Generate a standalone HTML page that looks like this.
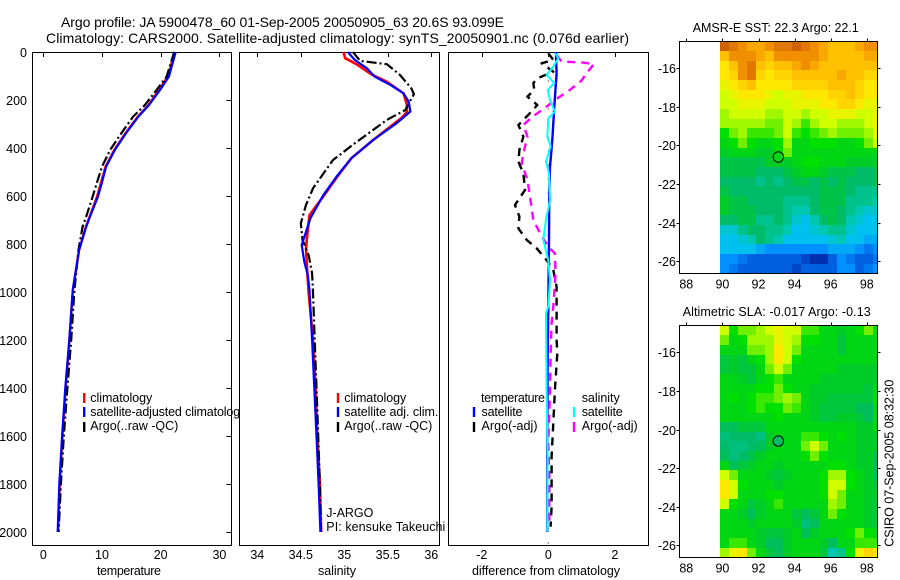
<!DOCTYPE html>
<html lang="en">
<head>
<meta charset="utf-8">
<title>Argo profile chart</title>
<style>
html,body{margin:0;padding:0;background:#fff;}
svg{display:block;font-family:"Liberation Sans",sans-serif;fill:#000;}
text{font-size:12.5px;fill:#000;}
.ttl{font-size:14px;}
</style>
</head>
<body>
<svg id="chart" xmlns="http://www.w3.org/2000/svg" width="900" height="580" viewBox="0 0 900 580">
<rect x="0" y="0" width="900" height="580" fill="#fff"/>

<g id="p1"></g>
<g id="p1legend">
<rect x="83" y="393" width="2.4" height="10" fill="#f00"/>
<rect x="83" y="407" width="2.4" height="10" fill="#00f"/>
<rect x="83" y="422" width="2.4" height="10" fill="#000"/>
<text x="90.3" y="402" textLength="62" lengthAdjust="spacing">climatology</text>
<text x="90.3" y="416" textLength="156" lengthAdjust="spacing">satellite-adjusted climatology</text>
<text x="90.3" y="430" textLength="88" lengthAdjust="spacing">Argo(..raw -QC)</text>
</g>

<rect x="239.5" y="52" width="208.5" height="494" fill="#fff"/>
<text class="ttl" x="61" y="27" textLength="443" lengthAdjust="spacing">Argo profile: JA 5900478_60 01-Sep-2005 20050905_63 20.6S 93.099E</text>
<text class="ttl" x="46" y="43" textLength="583" lengthAdjust="spacing">Climatology: CARS2000. Satellite-adjusted climatology: synTS_20050901.nc (0.076d earlier)</text>
<g id="p2"></g>
<g id="p2legend">
<rect x="336.8" y="393" width="2.4" height="10" fill="#f00"/>
<rect x="336.8" y="407" width="2.4" height="10" fill="#00f"/>
<rect x="336.8" y="422" width="2.4" height="10" fill="#000"/>
<text x="344.3" y="402" textLength="62" lengthAdjust="spacing">climatology</text>
<text x="344.3" y="416" textLength="94" lengthAdjust="spacing">satellite adj. clim.</text>
<text x="344.3" y="430" textLength="88" lengthAdjust="spacing">Argo(..raw -QC)</text>
<text x="326.3" y="517" textLength="47" lengthAdjust="spacing">J-ARGO</text>
<text x="326.3" y="531" textLength="119" lengthAdjust="spacing">PI: kensuke Takeuchi</text>
</g>

<g id="p3"></g>
<g id="p3legend">
<text x="481" y="402" textLength="64" lengthAdjust="spacing">temperature</text>
<rect x="472.8" y="407" width="2.4" height="10" fill="#00f"/>
<text x="481.5" y="416" textLength="41" lengthAdjust="spacing">satellite</text>
<rect x="472.8" y="422" width="2.4" height="10" fill="#000"/>
<text x="481.5" y="430" textLength="56" lengthAdjust="spacing">Argo(-adj)</text>
<text x="581.7" y="402" textLength="38" lengthAdjust="spacing">salinity</text>
<rect x="572.8" y="407" width="2.4" height="10" fill="#0ff"/>
<text x="581.7" y="416" textLength="41" lengthAdjust="spacing">satellite</text>
<rect x="572.8" y="422" width="2.4" height="10" fill="#f0f"/>
<text x="581.7" y="430" textLength="56" lengthAdjust="spacing">Argo(-adj)</text>
</g>

<text x="129" y="575" text-anchor="middle" textLength="64" lengthAdjust="spacing">temperature</text>
<text x="337" y="575" text-anchor="middle" textLength="38" lengthAdjust="spacing">salinity</text>
<text x="546" y="575" text-anchor="middle" textLength="148" lengthAdjust="spacing">difference from climatology</text>

<g id="m1"></g>
<g id="m2"></g>
<text x="692.7" y="32" textLength="166" lengthAdjust="spacing">AMSR-E SST: 22.3 Argo: 22.1</text>
<text x="682.7" y="316" textLength="188" lengthAdjust="spacing">Altimetric SLA: -0.017 Argo: -0.13</text>
<text transform="translate(893.5,546.7) rotate(-90)" textLength="167" lengthAdjust="spacing">CSIRO 07-Sep-2005 08:32:30</text>
</svg>

<script>
// ---------- tick labels ----------
const depthTicks = [0,200,400,600,800,1000,1200,1400,1600,1800,2000];
const tempTicks = [0,10,20,30];
const salTicks = [34,34.5,35,35.5,36];
const diffTicks = [-2,0,2];
const lonTicks = [88,90,92,94,96,98];
const latTicks = [-16,-18,-20,-22,-24,-26];

// ---------- temperature panel ----------
const tempDepths = [0,103,158,221,269,338,408,478,547,603,686,728,825,992,1200,1400,1600,1800,2000];
const tempClim = [22.4,21.2,19.7,17.9,16.1,14.0,12.1,10.6,9.8,9.15,7.9,7.25,6.1,5.05,4.45,3.8,3.25,2.8,2.5];
const tempSat = [22.55,21.4,19.9,18.0,16.2,14.1,12.2,10.7,9.95,9.3,7.95,7.3,6.1,5.0,4.43,3.75,3.2,2.73,2.45];
const tempArgo = [22.3,21.0,19.3,17.3,15.3,13.3,11.4,10.0,9.1,8.4,7.3,6.7,6.0,5.3,4.75,4.1,3.5,3.0,2.6];

// ---------- salinity panel ----------
const salSatDepths = [0,33,68,103,137,172,207,248,297,367,443,519,596,693,749,804,874,929,992,1200,1400,1600,1800,2000];
const salSat = [35.04,35.12,35.26,35.35,35.53,35.68,35.74,35.76,35.6,35.33,35.08,34.91,34.76,34.61,34.56,34.51,34.54,34.58,34.6,34.63,34.655,34.68,34.705,34.725];
const salClimDepths = [0,26,51,93,124,172,219,250,274,367,443,519,596,680,776,818,890,1000,1200,1400,1600,1800,2000];
const salClim = [34.99,35.01,35.14,35.31,35.49,35.68,35.72,35.72,35.66,35.33,35.08,34.92,34.77,34.6,34.57,34.56,34.57,34.59,34.64,34.67,34.69,34.72,34.735];
const salArgoDepths = [0,37,51,96,151,176,242,283,381,450,568,637,714,783,846,922,1000,1200,1400,1600,1800,2000];
const salArgo = [35.1,35.18,35.49,35.64,35.77,35.8,35.7,35.49,35.12,34.87,34.64,34.56,34.5,34.52,34.59,34.63,34.64,34.66,34.68,34.7,34.72,34.73];

// ---------- difference panel ----------
const diffTempSatDepths = [0,89,228,367,478,575,783,1061,1300,1600,2000];
const diffTempSat = [0.23,0.25,0.18,0.12,0.05,0.03,0.02,0,-0.02,-0.03,-0.03];
const diffSalSatDepths = [5,26,61,96,130,158,200,249,276,353,394,457,506,617,700,783,867,950,1061,1089,1408,1686,1998];
const diffSalSat = [0.2,0.3,0.15,-0.05,0.18,-0.02,0.05,0.2,0,-0.03,0.07,-0.07,0.02,0.05,-0.07,-0.15,0,0.05,0,-0.07,-0.05,-0.02,-0.03];
const diffTempArgoDepths = [5,33,47,82,110,130,158,186,221,262,304,353,408,457,506,575,637,686,735,783,818,867,908,978,1061,1200,1256,1408,1547,1686,1894,1978];
const diffTempArgo = [0,0.15,-0.2,0.15,-0.33,-0.45,-0.42,-0.63,-0.33,-0.6,-0.9,-0.75,-0.87,-0.9,-0.75,-0.7,-1,-0.87,-0.9,-0.65,-0.35,-0.05,0.15,0.25,0.25,0.25,0.27,0.2,0.15,0.1,0.1,0.07];
const diffSalArgoDepths = [12,40,44,50,89,119,158,200,228,272,304,353,422,464,533,603,700,755,811,839,922,1061,1130,1270,1408,1630,1769,1963];
const diffSalArgo = [0.25,0.4,1.05,1.37,1.15,1,0.65,0.2,-0.05,-0.5,-0.75,-0.63,-0.75,-0.8,-0.63,-0.55,-0.45,-0.25,0,0.2,0.22,0.15,0.1,0.07,0.05,0,0.03,0.03];

// ---------- map data (colour level per 0.5 degree cell) ----------
const sstArgoLevel = [6.5];
const slaArgoLevel = [5];
const argoLon = [93.099];
const argoLat = [-20.6];
const sstLevels = [
[13,12.5,12,11.5,11.5,12,12.5,12.5,13,12.5,12,11.5,11,11,11,11.5,12,12],
[11,12,12,12,11.5,11,12,12,12,12,12,11.5,11,11,11,11,11.5,11.5],
[10,11,12,12.5,11,10.5,11,11,11.5,12,11.5,11,11,11,11,11,11,11],
[10,10.5,12,12.5,10.5,10,10.5,10.5,11,11,11,11,11,11.5,11,11,10.5,10.5],
[9.5,10,10.5,11,10,10,10,10,10.5,10.5,10.5,10.5,11,11,11,10.5,10,10],
[9,9.5,10,10,10,9.5,9,9.5,9.5,10,10,10,10.5,10.5,11,10.5,10,10],
[9,9,9.5,9.5,9.5,9,9,9,9.5,9.5,9.5,10,10,10.5,10.5,10,9.5,9.5],
[8.5,9,9,9,9,8.5,8.5,9,9,8.5,9,9,9.5,9.5,9.5,9,9,9.5],
[8.5,8.5,8.5,8.5,8.5,8,8,9,8.5,7.5,8.5,9,9,8.5,8.5,8.5,9,9.5],
[7,8,8.5,7.5,7.5,7.5,8,9,7.5,7,7.5,8,8.5,8,8,8,8.5,9.5],
[6.5,7,8,7,6.5,6.5,7,8.5,6.5,6.5,7,7,7,6.5,6.5,7,8,9],
[6,6.5,6.5,6.5,6,6,7,8,6.5,6.5,6.5,6.5,6.5,6.5,6.5,6.5,6.5,6.5],
[5.5,5.5,5.5,5.5,5.5,6,6,6,6.5,7,7,6.5,6.5,6.5,6,6,6,6],
[5.5,5.5,5.5,5.5,5,5,5,5.5,6,6.5,6.5,6,5.5,5.5,5.5,5,5,5.5],
[5,5,5,5,4.5,5,4.5,5,5.5,5.5,5,5.5,5,5.5,5,5,5,5.5],
[5.5,5,5,5,5,5,5,5,5,5,5,5.5,5.5,5.5,5,4.5,4.5,4.5],
[6,5.5,5.5,5,5,5,5,4.5,4.5,4.5,5,5.5,5.5,5.5,4.5,4.5,4.5,4],
[6,5.5,5.5,5.5,5,5,5,4.5,4,4,5,5.5,5.5,5,4.5,4,3.5,3.5],
[5,5,5.5,5.5,4.5,4.5,5,4.5,3.5,3,4,5,5.5,5,4,3.5,3,3],
[3.5,3.5,4.5,5,5,4.5,4.5,4,3,3,3.5,4,4.5,4.5,3.5,3,3,3],
[3,3,3.5,4,5,4.5,4,3,3,3,3,3,3.5,4,3,3,2.5,2.5],
[3,3,3,3,2.5,2,2,2,2,2,2,2,2.5,2.5,2.5,2,1.5,2],
[2,2,1.5,1,1,1,1,1,1,0.5,0,0,1,2,1.5,1,1,1.5],
[2,1.5,1,1,1,1,1,1,0.5,1,1,1,1,2,2,1,1.5,2]
];
const slaLevels = [
[9,7,8,8,8.5,9,9.5,9,9,7.5,7.5,6.5,6.5,6,6.5,7,8,7],
[8,6.5,7,8.5,8.5,8.5,9.5,9,8.5,7,7,6.5,6.5,5.7,6.5,6.5,6.5,6.5],
[6.5,6.5,6.5,8,8,8.5,10,9,8,6.5,6.5,6.5,6.5,5.7,6.5,6.5,6.5,6.5],
[5.7,6,5.7,6.5,7,8.5,10,9,7,6.5,6.5,6.5,6.5,6.5,6.5,6.5,6.5,6.5],
[5.7,6,5.7,5.7,6.5,8,9,8,6.5,6.5,6.5,6.5,6.5,6,6,6,6,6],
[6.5,6.5,6,5.7,6.5,7,7.5,6.5,6.5,6.5,6.5,6,6,6,6,6,6,6],
[6.5,6.5,6.5,6.5,7,7,8,7,6.5,6.5,6,6,6,6,6,6,5.7,6.5],
[6.5,7,6.5,7,7.5,7.5,8,8.5,8,6.5,6,6,5.7,5.7,5.7,5.7,5.7,7],
[6.5,6.5,6.5,7,7.5,7,7,8,7.5,6.5,6,5.7,5.7,5.7,5.7,5.2,5.2,6.5],
[6.5,6.5,6.5,6.5,6.5,6.5,7,6.5,6.5,6.5,6,5.7,5.7,6,6,5.7,5.2,6.5],
[5.2,5.2,5.7,5.7,5.7,6.5,6.5,6.5,6.5,6.5,6.5,6.5,6.5,6.5,6.5,6,6,6.5],
[4.7,5,5,5,4.7,6,6.5,6.5,6.5,7.5,7.5,7,6.5,7,6.5,6,6,6],
[5,4.7,4.7,5,5.2,6,6.5,6.5,6.5,8,9,8,6.5,6.5,6.5,6,6,6],
[5.2,4.7,5,5.5,6,6.5,6.5,6.5,6.5,7,8,7,6.5,6.5,6.5,6,6,5.2],
[6.5,5.2,5.7,6,6.5,6.5,6,6.5,6.5,6.5,6.5,6.5,7,7,6.5,6,6,5],
[9,8,6.5,6.5,6.5,6,5.7,6,6.5,6.5,6.5,7,8.5,8.5,7,6.5,6,5],
[10,9,7,6.5,6.5,6.5,6,6.5,6.5,6.5,6.5,7,9,9,7,6.5,6,5.5],
[10,9,6.5,6.5,6.5,7,7,6.5,6.5,6.5,6.5,7,9,8,6.5,6.5,6,6],
[9,7,6.5,5.7,6,6.5,7.5,6.5,6.5,6.5,6.5,6.5,8.5,8,6.5,6.5,6,5.7],
[6.5,6.5,6,5.2,6,6.5,6.5,6.5,5.7,5.2,5.7,6.5,8,7,6.5,6.5,6,5.7],
[6.5,6.5,6.5,6,6.5,6.5,6.5,6.5,6,4.7,5.2,6.5,6.5,6.5,6.5,6.5,6,5.7],
[6.5,6.5,6.5,6.5,6,5.7,5.7,6,6.5,5.2,6,6.5,6.5,6.5,7,8,7,6.5],
[6.5,7.5,7.5,6.5,6,5.2,5.2,6,6.5,6.5,6.5,6,5.2,6.5,6.5,7.5,7.5,7.5],
[8.5,9.5,10,8,6.5,5.7,5.2,6,6.5,6.5,6.5,5.7,4,4.5,7,9.5,10.5,10]
];

// ---------- rendering ----------
const NS = 'http://www.w3.org/2000/svg';
const palette = ['#0030b0','#0060e0','#0090ff','#00c0f0','#00c8b0','#00bc68','#00cc28','#00e000','#70f000','#d0ff00','#ffe800','#ffc000','#f09000','#d06000'];

function hexToRgb(h){return [1,3,5].map(function(i){return parseInt(h.substr(i,2),16);});}
function levelColor(v){
  const c = Math.max(0,Math.min(palette.length-1,v));
  const a = Math.floor(c), b = Math.min(palette.length-1,a+1), t = c-a;
  const A = hexToRgb(palette[a]), B = hexToRgb(palette[b]);
  return 'rgb('+A.map(function(x,i){return Math.round(x+(B[i]-x)*t);}).join(',')+')';
}
function make(parent,tag,attrs){
  const el = document.createElementNS(NS,tag);
  for(const k in attrs){el.setAttribute(k,attrs[k]);}
  parent.appendChild(el);
  return el;
}
function depthY(d){return 52+0.24*d;}
function tempX(v){return 43.3+5.87*v;}
function salX(v){return 257.3+87*(v-34);}
function diffX(v){return 548.3+33.25*v;}
function lonX(v){return 686.3+18.05*(v-88);}
function latY1(v){return 68+19.33*(-16-v);}
function latY2(v){return 352.3+19.3*(-16-v);}

function drawSeries(parent,xf,depths,vals,color,width,dash,name){
  const pts = vals.map(function(v,i){return xf(v).toFixed(1)+','+depthY(depths[i]).toFixed(1);}).join(' ');
  const attrs = {points:pts,fill:'none',stroke:color,'stroke-width':width,'stroke-linejoin':'round'};
  if(dash){attrs['stroke-dasharray']=dash;}
  const el = make(parent,'polyline',attrs);
  
  
}
function drawFrame(parent,l,t,r,b,name){
  const el = make(parent,'rect',{x:l,y:t,width:r-l,height:b-t,fill:'none',stroke:'#000','stroke-width':1,'shape-rendering':'crispEdges'});
  
  
}
function drawTick(parent,x1,y1,x2,y2){
  const el = make(parent,'line',{x1:x1,y1:y1,x2:x2,y2:y2,stroke:'#000','stroke-width':1,'shape-rendering':'crispEdges'});
  
  
}
function drawLabel(parent,x,y,str,anchor){
  const el = make(parent,'text',{x:x,y:y,'text-anchor':anchor});
  el.textContent = str;
  
  
}
function profileAxes(g,l,r,xf,ticks,xfmt,name){
  make(g,'rect',{x:l,y:52.5,width:r-l,height:493,fill:'#fff'});
  ticks.forEach(function(t){
    const x = Math.round(xf(t))+0.5;
    drawTick(g,x,52.5,x,57);
    drawLabel(g,xf(t),559,xfmt(t),'middle');
  });
  drawFrame(g,l,52.5,r,545.5,name);
}

const p1 = document.getElementById('p1');
const p2 = document.getElementById('p2');
const p3 = document.getElementById('p3');

profileAxes(p1,32.5,231.5,tempX,tempTicks,String,'temperature-axes-frame');
depthTicks.forEach(function(d){
  const y = Math.round(depthY(d))+0.5;
  drawTick(p1,226.5,y,231.5,y);
  drawLabel(p1,27,y+4.5,String(d),'end');
});
drawSeries(p1,tempX,tempDepths,tempClim,'#f00',2.4,null,'temperature-climatology-line');
drawSeries(p1,tempX,tempDepths,tempArgo,'#000',2.2,'10 3 2 3','temperature-argo-line');
drawSeries(p1,tempX,tempDepths,tempSat,'#00f',2.2,null,'temperature-satellite-line');

profileAxes(p2,239.5,439.5,salX,salTicks,String,'salinity-axes-frame');
drawSeries(p2,salX,salClimDepths,salClim,'#f00',2.6,null,'salinity-climatology-line');
drawSeries(p2,salX,salArgoDepths,salArgo,'#000',2.2,'10 3 2 3','salinity-argo-line');
drawSeries(p2,salX,salSatDepths,salSat,'#00f',2.2,null,'salinity-satellite-line');

profileAxes(p3,448.5,648.5,diffX,diffTicks,String,'difference-axes-frame');
const zeroLine = make(p3,'line',{x1:diffX(0),y1:52.5,x2:diffX(0),y2:545,stroke:'#000','stroke-width':1,'stroke-dasharray':'1 13'});


drawSeries(p3,diffX,diffTempSatDepths,diffTempSat,'#00f',2.4,null,'difference-temperature-satellite-line');
drawSeries(p3,diffX,diffTempArgoDepths,diffTempArgo,'#000',2.4,'8 6','difference-temperature-argo-line');
drawSeries(p3,diffX,diffSalArgoDepths,diffSalArgo,'#f0f',2.4,'8 6','difference-salinity-argo-line');
drawSeries(p3,diffX,diffSalSatDepths,diffSalSat,'#0ff',2,null,'difference-salinity-satellite-line');

function drawMap(g,levels,yf,top,bottom,argoLevel,name){
  const left = 679.5, right = 877.5;
  levels.forEach(function(row,r){
    row.forEach(function(v,c){
      const x0 = Math.round(lonX(89.87+0.5*c));
      const x1 = Math.min(right,Math.round(lonX(89.87+0.5*(c+1))));
      const y0 = Math.round(yf(-14.62-0.5*r));
      const y1 = Math.min(bottom,Math.round(yf(-14.62-0.5*(r+1))));
      const cell = make(g,'rect',{x:x0,y:y0,width:x1-x0,height:y1-y0,fill:levelColor(v),'shape-rendering':'crispEdges'});
      
      
    });
  });
  lonTicks.forEach(function(t){
    const x = Math.round(lonX(t))+0.5;
    drawTick(g,x,top-3,x,top);
    drawLabel(g,lonX(t),bottom+15,String(t),'middle');
  });
  latTicks.forEach(function(t){
    const y = Math.round(yf(t))+0.5;
    drawTick(g,left-3,y,left,y);
    drawTick(g,right,y,right+3,y);
    drawLabel(g,676,y+4.5,String(t),'end');
  });
  drawFrame(g,left,top,right,bottom,name+'-frame');
  const marker = make(g,'circle',{cx:lonX(argoLon[0]),cy:yf(argoLat[0]),r:5.2,fill:levelColor(argoLevel[0]),stroke:'#000','stroke-width':1});
  
  
}
drawMap(document.getElementById('m1'),sstLevels,latY1,41.5,273.5,sstArgoLevel,'sst-map');
drawMap(document.getElementById('m2'),slaLevels,latY2,325.5,557.5,slaArgoLevel,'sla-map');
</script>
</body>
</html>
